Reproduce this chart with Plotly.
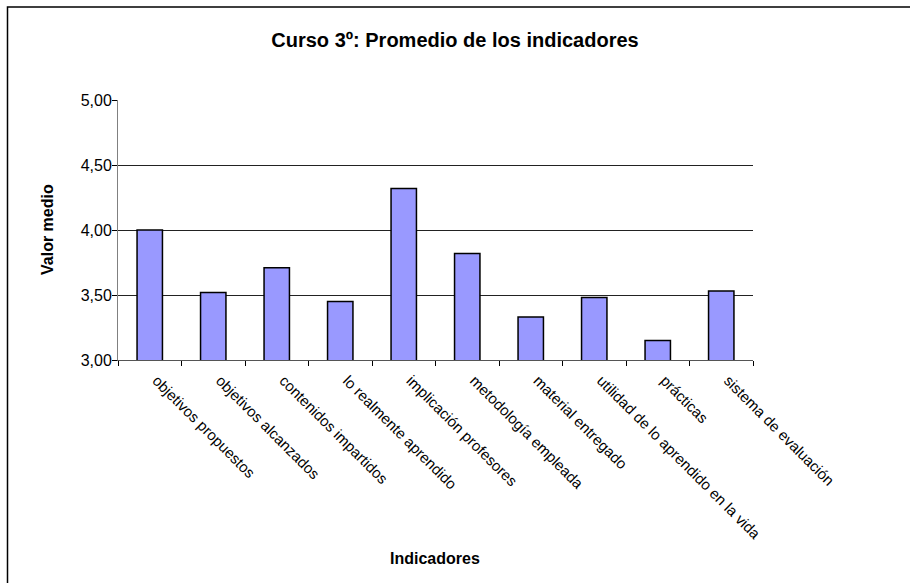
import plotly.graph_objects as go

categories = [
    "objetivos propuestos",
    "objetivos alcanzados",
    "contenidos impartidos",
    "lo realmente aprendido",
    "implicación profesores",
    "metodología empleada",
    "material entregado",
    "utilidad de lo aprendido en la vida",
    "prácticas",
    "sistema de evaluación",
]
values = [4.00, 3.52, 3.71, 3.45, 4.32, 3.82, 3.33, 3.48, 3.15, 3.53]
y_ticks = [3.0, 3.5, 4.0, 4.5, 5.0]

title_text = "Curso 3º: Promedio de los indicadores"
x_title = "Indicadores"
y_title = "Valor medio"

W, H = 910, 583
L, R, T, B = 118, 157, 100, 223
pw, ph = W - L - R, H - T - B

def px_x(px):
    return (px - L) / pw

def px_y(py):
    return (H - B - py) / ph

FONT = "Liberation Sans, Arial, sans-serif"

fig = go.Figure(
    go.Bar(
        x=categories,
        y=values,
        marker=dict(color="#9999FF", line=dict(color="black", width=1.5)),
        width=0.4,
        base=0,
    )
)

fig.update_layout(
    width=W,
    height=H,
    margin=dict(l=L, r=R, t=T, b=B, pad=0),
    paper_bgcolor="white",
    plot_bgcolor="white",
    separators=",.",
    showlegend=False,
    font=dict(family=FONT, color="black"),
    title=dict(
        text="<b>" + title_text + "</b>",
        x=455 / W,
        xanchor="center",
        y=1 - 40 / H,
        yanchor="middle",
        font=dict(size=20, family=FONT, color="black"),
    ),
    bargap=0.6,
)

fig.update_xaxes(
    type="category",
    tickson="boundaries",
    ticks="outside",
    ticklen=5,
    tickcolor="black",
    tickangle=45,
    tickfont=dict(size=15, family=FONT, color="black"),
    ticklabelshift=7,
    ticklabelstandoff=5,
    showline=True,
    linecolor="#555555",
    linewidth=1,
    showgrid=False,
)

fig.update_yaxes(
    range=[3, 5],
    tickvals=y_ticks,
    tickformat=".2f",
    ticks="outside",
    ticklen=5,
    tickcolor="black",
    tickfont=dict(size=16, family=FONT, color="black"),
    ticklabelstandoff=-3,
    showline=True,
    linecolor="#808080",
    linewidth=1,
    showgrid=True,
    gridcolor="#222222",
    gridwidth=1,
    zeroline=False,
)

fig.add_annotation(
    text="<b>" + x_title + "</b>",
    xref="paper", yref="paper",
    x=px_x(435), y=px_y(558),
    xanchor="center", yanchor="middle",
    showarrow=False,
    font=dict(size=16, family=FONT, color="black"),
)
fig.add_annotation(
    text="<b>" + y_title + "</b>",
    xref="paper", yref="paper",
    x=px_x(47), y=px_y(230),
    xanchor="center", yanchor="middle",
    textangle=-90,
    showarrow=False,
    font=dict(size=16, family=FONT, color="black"),
)

fig.add_shape(
    type="rect",
    xref="paper", yref="paper",
    x0=px_x(7.5), y0=px_y(7), x1=px_x(920), y1=px_y(600),
    line=dict(color="black", width=1.5),
    fillcolor="rgba(0,0,0,0)",
    layer="above",
)

fig.write_html(
    "out.html",
    config={"displayModeBar": False},
    post_script="document.body.style.margin='0';document.body.style.overflow='hidden';",
)
